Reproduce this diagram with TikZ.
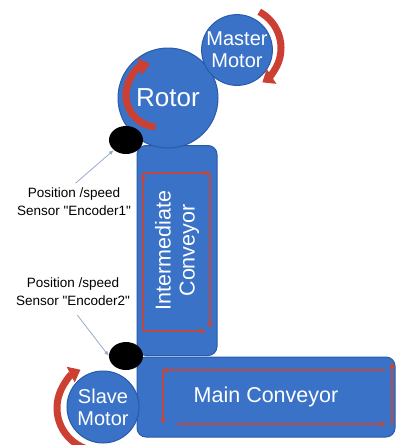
\documentclass[tikz,border=0pt]{standalone}
\usepackage{fontspec}
\setmainfont[Ligatures=TeXOff]{Liberation Sans}
\usetikzlibrary{shapes.geometric,arrows.meta}
\definecolor{partblue}{RGB}{58,114,200}
\definecolor{partedge}{RGB}{40,90,168}
\definecolor{spinred}{RGB}{204,64,52}
\definecolor{trackred}{RGB}{186,74,66}
\definecolor{pointgrey}{RGB}{150,170,205}

\begin{document}
\begin{tikzpicture}[x=1pt,y=-1pt,>=latex,
    part/.style={fill=partblue,draw=partedge,line width=1pt,text=white,inner sep=0pt},
    motor/.style={part,circle,minimum size=#1,align=center,font=\fontsize{20}{22}\selectfont},
    belt/.style={part,rounded corners=9pt,align=center,font=\fontsize{21.5}{24}\selectfont},
    sensor/.style={ellipse,fill=black,minimum width=34pt,minimum height=28pt,inner sep=0pt},
    spin/.style={line width=7pt,spinred,-{Triangle[length=11pt,width=17pt]}},
    track/.style={trackred,line width=1.3pt,-{Latex[length=7pt,width=6pt]}},
    pointer/.style={pointgrey,line width=0.8pt,-{Latex[length=5pt,width=4pt]}},
    caption/.style={align=center,font=\fontsize{13.5}{18}\selectfont}]
    \useasboundingbox (0,0) rectangle (396,445);
    \clip (0,0) rectangle (396,445);

    \node[belt,minimum width=258pt,minimum height=80pt] (main) at (266,397) {Main Conveyor};
    \node[belt,rotate=90,minimum width=210pt,minimum height=80pt] (inter) at (177,250.5) {Intermediate\\Conveyor};

    \node[motor=100pt,font=\fontsize{26}{30}\selectfont] (rotor) at (168,98) {Rotor};
    \node[motor=70pt] (master) at (237,50) {Master\\Motor};
    \node[motor=72pt] (slave) at (103,407) {Slave\\Motor};

    \node[sensor] (enc1) at (126,140) {};
    \node[sensor] (enc2) at (126,356) {};

    % direction of turning
    \draw[spin] ([shift={(95:32)}]158,95) arc[start angle=95,end angle=256,radius=32];
    \draw[spin] ([shift={(-62:41)}]240,48) arc[start angle=-62,end angle=57,radius=41];
    \draw[spin] ([shift={(110:43)}]100,408) arc[start angle=110,end angle=243,radius=43];

    % belt paths
    \draw[track] (143,173) -- (211,173);
    \draw[track] (210,173) -- (210,329);
    \draw[track] (143,331) -- (207,331);
    \draw[track] (143,331) -- (143,172);
    \draw[track] (385,370) -- (161,370);
    \draw[track] (163,370) -- (163,425);
    \draw[track] (177,424) -- (387,424);
    \draw[track] (392,425) -- (392,361);

    \node[caption] (lab1) at (74,202) {Position /speed\\Sensor "Encoder1"};
    \node[caption] (lab2) at (73,292) {Position /speed\\Sensor "Encoder2"};
    \draw[pointer,shorten <=2pt] (lab1.north) -- (enc1.south west);
    \draw[pointer,shorten <=7pt] (lab2.south) -- (enc2.west);
\end{tikzpicture}
\end{document}
